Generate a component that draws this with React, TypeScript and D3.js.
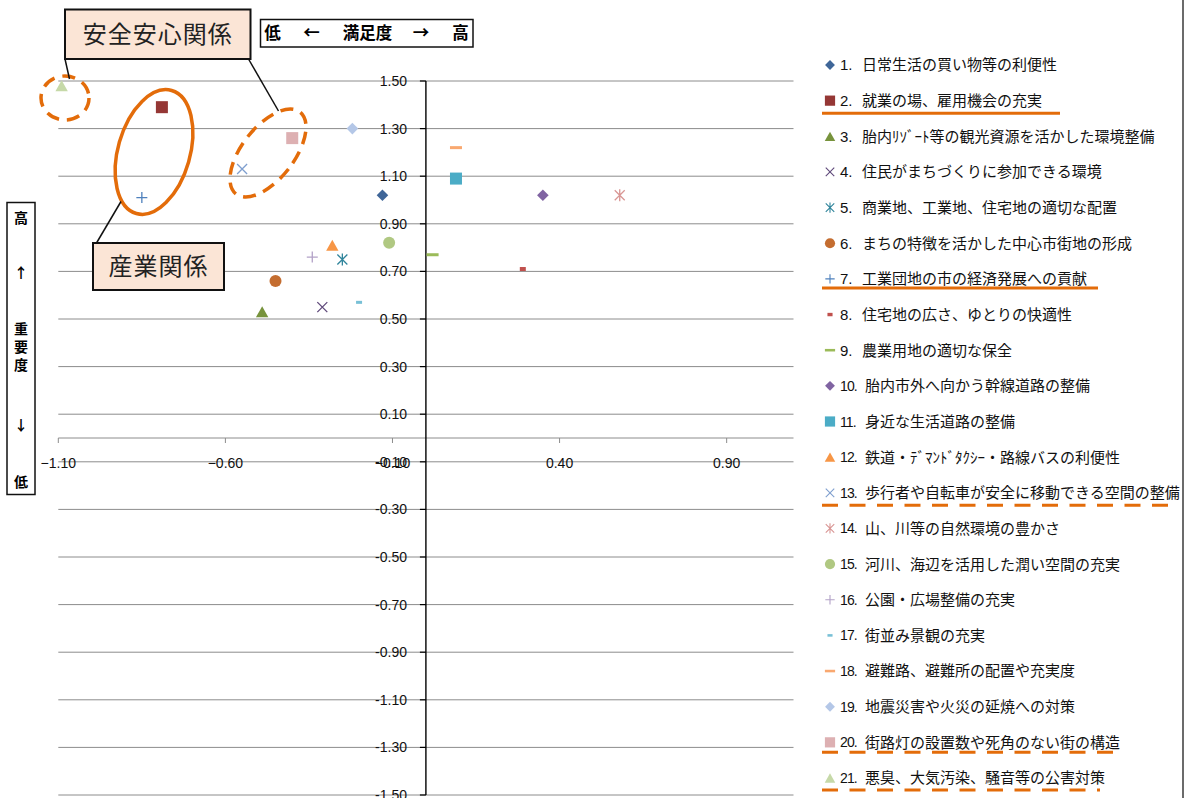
import React from 'react';
import * as d3 from 'd3';

// 満足度 (x) と 重要度 (y) の散布図 — 21 項目
const itemNames = [
  '日常生活の買い物等の利便性',
  '就業の場、雇用機会の充実',
  '胎内ﾘｿﾞｰﾄ等の観光資源を活かした環境整備',
  '住民がまちづくりに参加できる環境',
  '商業地、工業地、住宅地の適切な配置',
  'まちの特徴を活かした中心市街地の形成',
  '工業団地の市の経済発展への貢献',
  '住宅地の広さ、ゆとりの快適性',
  '農業用地の適切な保全',
  '胎内市外へ向かう幹線道路の整備',
  '身近な生活道路の整備',
  '鉄道・ﾃﾞﾏﾝﾄﾞﾀｸｼｰ・路線バスの利便性',
  '歩行者や自転車が安全に移動できる空間の整備',
  '山、川等の自然環境の豊かさ',
  '河川、海辺を活用した潤い空間の充実',
  '公園・広場整備の充実',
  '街並み景観の充実',
  '避難路、避難所の配置や充実度',
  '地震災害や火災の延焼への対策',
  '街路灯の設置数や死角のない街の構造',
  '悪臭、大気汚染、騒音等の公害対策',
];

const satisfaction = [
  -0.13, -0.79, -0.49, -0.31, -0.25, -0.45, -0.85, 0.29, 0.02, 0.35, 0.09,
  -0.28, -0.55, 0.58, -0.11, -0.34, -0.2, 0.09, -0.22, -0.4, -1.09,
];

const importance = [
  1.02, 1.39, 0.53, 0.55, 0.75, 0.66, 1.01, 0.71, 0.77, 1.02, 1.09, 0.81,
  1.13, 1.02, 0.82, 0.76, 0.57, 1.22, 1.3, 1.26, 1.48,
];

const markerShapes = [
  'diamond', 'square', 'triangle', 'x', 'asterisk', 'circle', 'plus', 'tinyDash', 'dash',
  'diamond', 'square', 'triangle', 'x', 'asterisk', 'circle', 'plus', 'shortDash', 'dash',
  'diamond', 'square', 'triangle',
];

const markerColors = [
  '#3F6698', '#953735', '#77933C', '#604A7B', '#31859C', '#C46D30', '#4F81BD',
  '#C0504D', '#9BBB59', '#8064A2', '#4BACC6', '#F79646', '#7F9FCF', '#D99694',
  '#B0C882', '#B3A2C7', '#78C0D6', '#F9A870', '#B4C7E7', '#DDB0B2', '#C6D9A8',
];

const xTickValues = [-1.1, -0.6, -0.1, 0.4, 0.9];
const yTickValues = [1.5, 1.3, 1.1, 0.9, 0.7, 0.5, 0.3, 0.1, -0.1, -0.3, -0.5, -0.7, -0.9, -1.1, -1.3, -1.5];

// 下線で強調する凡例項目 (項目番号, 実線/破線)
const highlightedItems = [2, 7, 13, 20, 21];
const highlightDashed = [false, false, true, true, true];
const highlightOffsets = [12.5, 9, 12.5, 10, 12];
const highlightWidths = [238, 276, 353, 295, 278];

const W = 1191;
const H = 798;
const ORANGE = '#E36C0A';
const JP = '"Noto Sans CJK JP", "Noto Sans", sans-serif';
const LATIN = '"Liberation Sans", Arial, sans-serif';

const x = d3.scaleLinear().domain([-1.1, 1.1]).range([58.3, 793.5]);
const y = d3.scaleLinear().domain([-1.5, 1.5]).range([795, 81]);

const yFmt = d3.formatLocale({ decimal: '.', thousands: ',', grouping: [3], currency: ['', ''], minus: '-' }).format('.2f');
const xFmt = d3.format('.2f');

const legendX = 830;
const legendY = (i: number) => 65 + i * 35.65;

function Marker({ shape, color, cx, cy, k = 1 }: { shape: string; color: string; cx: number; cy: number; k?: number }) {
  const t = `translate(${cx},${cy}) scale(${k})`;
  switch (shape) {
    case 'diamond':
      return <path transform={t} d="M0,-5.8L5.8,0L0,5.8L-5.8,0Z" fill={color} />;
    case 'square':
      return <rect transform={t} x={-6} y={-6} width={12} height={12} fill={color} />;
    case 'triangle':
      return <path transform={t} d="M0,-5.5L6.2,5.5L-6.2,5.5Z" fill={color} />;
    case 'circle':
      return <circle transform={t} r={6} fill={color} />;
    case 'x':
      return (
        <path transform={t} d="M-5,-5L5,5M-5,5L5,-5" stroke={color} strokeWidth={1.3} fill="none" />
      );
    case 'asterisk':
      return (
        <path transform={t} d="M-5,-5L5,5M-5,5L5,-5M0,-6L0,6" stroke={color} strokeWidth={1.3} fill="none" />
      );
    case 'plus':
      return <path transform={t} d="M-5.5,0L5.5,0M0,-5.5L0,5.5" stroke={color} strokeWidth={1.3} fill="none" />;
    case 'dash':
      return <rect transform={t} x={-6} y={-1.5} width={12} height={3} fill={color} />;
    case 'shortDash':
      return <rect transform={t} x={-3} y={-1.5} width={6} height={3} fill={color} />;
    case 'tinyDash':
      return <rect transform={t} x={-3} y={-2} width={6} height={4} fill={color} />;
    default:
      return null;
  }
}

function LabelBox({ x0, y0, w, h, text }: { x0: number; y0: number; w: number; h: number; text: string }) {
  return (
    <g>
      <rect x={x0} y={y0} width={w} height={h} fill="#FBE5D6" stroke="#111" strokeWidth={2} />
      <text
        x={x0 + w / 2}
        y={y0 + h / 2}
        dy="0.36em"
        textAnchor="middle"
        fontFamily={JP}
        fontSize={24}
        fill="#222"
        letterSpacing={1}
      >
        {text}
      </text>
    </g>
  );
}

export default function App() {
  const x0 = x(0);
  const y0 = y(0);
  return (
    <svg
      width={W}
      height={H}
      viewBox={`0 0 ${W} ${H}`}
      style={{ position: 'absolute', left: 0, top: 0, background: '#fff' }}
    >
      <rect width={W} height={H} fill="#fff" />

      {/* 目盛線 */}
      {yTickValues.map((v) => (
        <line key={`g${v}`} x1={x(-1.1)} x2={x(1.1)} y1={y(v)} y2={y(v)} stroke="#8C8C8C" strokeWidth={1} />
      ))}

      {/* 横軸 */}
      <line x1={x(-1.1)} x2={x(1.1)} y1={y0} y2={y0} stroke="#8C8C8C" strokeWidth={1} />
      {xTickValues.map((v) => (
        <g key={`xt${v}`}>
          <line x1={x(v)} x2={x(v)} y1={y0} y2={y0 + 5} stroke="#8C8C8C" strokeWidth={1} />
          <text x={x(v)} y={463} dy="0.35em" textAnchor="middle" fontFamily={LATIN} fontSize={14} fill="#111">
            {xFmt(v)}
          </text>
        </g>
      ))}

      {/* 縦軸 */}
      <line x1={x0} x2={x0} y1={y(1.5)} y2={y(-1.5)} stroke="#000" strokeWidth={1.4} />
      {yTickValues.map((v) => (
        <g key={`yt${v}`}>
          <line x1={x0 - 6} x2={x0} y1={y(v)} y2={y(v)} stroke="#000" strokeWidth={1.2} />
          <text x={407} y={y(v)} dy="0.36em" textAnchor="end" fontFamily={LATIN} fontSize={14} fill="#111">
            {yFmt(v)}
          </text>
        </g>
      ))}

      {/* グループの囲み */}
      <ellipse cx={65} cy={98} rx={24} ry={22} fill="none" stroke={ORANGE} strokeWidth={3.5} strokeDasharray="13 8" />
      <ellipse
        cx={154}
        cy={152}
        rx={36}
        ry={64}
        transform="rotate(16 154 152)"
        fill="none"
        stroke={ORANGE}
        strokeWidth={3.5}
      />
      <ellipse
        cx={268}
        cy={153}
        rx={26}
        ry={52}
        transform="rotate(38 268 153)"
        fill="none"
        stroke={ORANGE}
        strokeWidth={3.5}
        strokeDasharray="13 8"
      />

      {/* 各項目の点 */}
      {satisfaction.map((sv, i) => (
        <Marker key={`p${i}`} shape={markerShapes[i]} color={markerColors[i]} cx={x(sv)} cy={y(importance[i])} />
      ))}

      {/* 引出線 */}
      <line x1={65} y1={59} x2={69.5} y2={79} stroke="#111" strokeWidth={1.5} />
      <line x1={248.5} y1={59} x2={278.5} y2={111} stroke="#111" strokeWidth={1.5} />
      <line x1={96.5} y1={243} x2={121} y2={201.5} stroke="#111" strokeWidth={1.5} />

      <LabelBox x0={65} y0={9.5} w={185.5} h={49.5} text="安全安心関係" />
      <LabelBox x0={93} y0={243} w={131} h={47} text="産業関係" />

      {/* 満足度 ラベル */}
      <rect x={260.5} y={19.5} width={212.5} height={27.5} fill="#fff" stroke="#111" strokeWidth={1.5} />
      {[
        ['低', 272.5],
        ['←', 311.5],
        ['満足度', 367.5],
        ['→', 421],
        ['高', 460.5],
      ].map(([t, cx]) => (
        <text
          key={`s${t}`}
          x={cx as number}
          y={33.5}
          dy="0.36em"
          textAnchor="middle"
          fontFamily={JP}
          fontWeight={700}
          fontSize={16.5}
          fill="#000"
        >
          {t}
        </text>
      ))}

      {/* 重要度 ラベル */}
      <rect x={7} y={202.5} width={28} height={292} fill="#fff" stroke="#111" strokeWidth={1.5} />
      {[
        ['高', 218],
        ['↑', 273],
        ['重', 329],
        ['要', 347],
        ['度', 365],
        ['↓', 425],
        ['低', 482],
      ].map(([t, cy], i) => (
        <text
          key={`v${i}`}
          x={21}
          y={cy as number}
          dy="0.36em"
          textAnchor="middle"
          fontFamily={JP}
          fontWeight={700}
          fontSize={14}
          fill="#000"
        >
          {t}
        </text>
      ))}

      {/* 凡例 */}
      {itemNames.map((name, i) => {
        const ly = legendY(i);
        const num = `${i + 1}.`;
        const twoDigit = i >= 9;
        return (
          <g key={`l${i}`}>
            <Marker shape={markerShapes[i]} color={markerColors[i]} cx={legendX} cy={ly} k={0.85} />
            <text
              x={840}
              y={ly}
              dy="0.36em"
              fontFamily={LATIN}
              fontSize={twoDigit ? 14 : 15}
              letterSpacing={twoDigit ? -0.9 : 0}
              fill="#111"
            >
              {num}
            </text>
            <text x={twoDigit ? 865 : 862} y={ly} dy="0.36em" fontFamily={JP} fontSize={15} fill="#111">
              {name}
            </text>
          </g>
        );
      })}

      {/* 凡例の強調下線 */}
      {highlightedItems.map((n, j) => {
        const ly = legendY(n - 1) + highlightOffsets[j];
        const startX = 822;
        return (
          <line
            key={`u${n}`}
            x1={startX}
            x2={startX + highlightWidths[j]}
            y1={ly}
            y2={ly}
            stroke={ORANGE}
            strokeWidth={3}
            strokeDasharray={highlightDashed[j] ? '16 11.5' : undefined}
          />
        );
      })}

      {/* 外枠 */}
      <line x1={1183} x2={1183} y1={0} y2={H} stroke="#3A3A3A" strokeWidth={1.5} />
    </svg>
  );
}
